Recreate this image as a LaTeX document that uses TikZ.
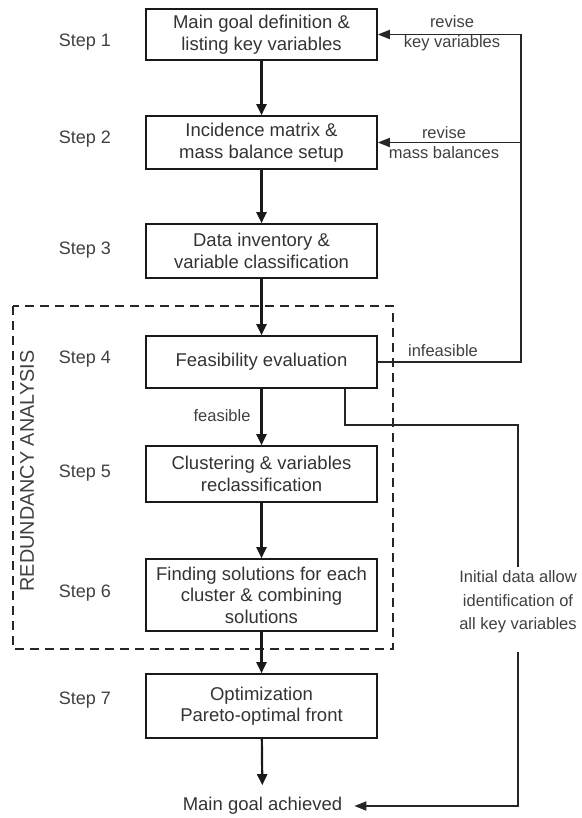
\documentclass[tikz,border=0pt]{standalone}
\usepackage{fontspec}
\setmainfont{Liberation Sans}
\usetikzlibrary{arrows.meta}

\begin{document}
\begin{tikzpicture}[x=1pt,y=-1pt,
  stepbox/.style={draw=black!90,line width=1.6pt,minimum width=231pt,inner sep=2pt,align=center,text=black!80,font=\fontsize{18.5}{21.5}\selectfont},
  steplbl/.style={text=black!75,font=\fontsize{18}{21}\selectfont},
  note/.style={align=center,text=black!75,font=\fontsize{16.5}{20}\selectfont},
  flow/.style={draw=black!90,line width=2.2pt,-{Triangle[length=11pt,width=10pt]}},
  back/.style={draw=black!85,line width=1.8pt},
  backarr/.style={back,-{Triangle[length=12pt,width=9pt]}}]
\useasboundingbox (0,0) rectangle (581,818);

% redundancy analysis frame
\draw[black!85,line width=1.8pt,dash pattern=on 9pt off 6pt] (13,306) rectangle (393,649);
\node[rotate=90,text=black!75,font=\fontsize{19.8}{21}\selectfont] (ra) at (27,471) {REDUNDANCY ANALYSIS};

\node[stepbox,minimum height=51pt] (def) at (261.5,34.5) {Main goal definition \&\\listing key variables};
\node[stepbox,minimum height=53pt] (inc) at (261.5,142.5) {Incidence matrix \&\\mass balance setup};
\node[stepbox,minimum height=54pt] (inv) at (261.5,251) {Data inventory \&\\variable classification};
\node[stepbox,minimum height=52pt] (feas) at (261.5,362) {Feasibility evaluation};
\node[stepbox,minimum height=56pt] (clus) at (261.5,474) {Clustering \& variables\\reclassification};
\node[stepbox,minimum height=72pt] (sol) at (261.5,595) {Finding solutions for each\\cluster \& combining\\solutions};
\node[stepbox,minimum height=64pt] (opt) at (261.5,706) {Optimization\\Pareto-optimal front};
\node[text=black!80,inner sep=12pt,font=\fontsize{18.5}{21.5}\selectfont] (goal) at (262.5,806) {Main goal achieved};

\node[steplbl] (s1) at (85,42) {Step 1};
\node[steplbl] (s2) at (85,139) {Step 2};
\node[steplbl] (s3) at (85,250) {Step 3};
\node[steplbl] (s4) at (85,359) {Step 4};
\node[steplbl] (s5) at (85,473) {Step 5};
\node[steplbl] (s6) at (85,593) {Step 6};
\node[steplbl] (s7) at (85,700) {Step 7};

\draw[flow] (def) -- (inc);
\draw[flow] (inc) -- (inv);
\draw[flow] (inv) -- (feas);
\draw[flow] (feas) -- (clus);
\draw[flow] (clus) -- (sol);
\draw[flow] (sol) -- (opt);
\draw[flow] (opt) -- (goal);

% feedback loop
\coordinate (rx) at (521,0);
\coordinate (fbtop) at (def.east -| rx);
\coordinate (fbmid) at (inc.east -| rx);
\draw[back] (feas.east) -| (fbtop);
\draw[backarr] (fbtop) -- (def.east);
\draw[backarr] (fbmid) -- (inc.east);

\node[note] (rkv) at (452,33) {revise\\key variables};
\node[note] (rmb) at (444,143) {revise\\mass balances};
\node[note] (infs) at (443,351) {infeasible};
\node[note] (fs) at (222,416) {feasible};

% shortcut to the goal
\node[note,inner xsep=2pt,inner ysep=4pt,font=\fontsize{16.5}{23.5}\selectfont] (ident) at (518,602) {Initial data allow\\identification of\\all key variables};
\coordinate (turn) at (518,425);
\draw[back] ([xshift=-33pt]feas.south east) |- (turn) -- (ident.north);
\draw[backarr,shorten <=15pt] (ident.south) |- (goal.east);
\end{tikzpicture}
\end{document}
